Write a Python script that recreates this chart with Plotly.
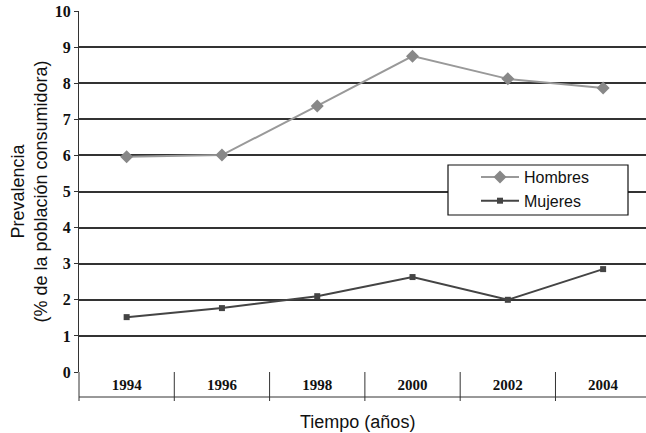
import plotly.graph_objects as go

years = ["1994", "1996", "1998", "2000", "2002", "2004"]
hombres = [5.96, 6.01, 7.37, 8.75, 8.12, 7.87]
mujeres = [1.52, 1.77, 2.10, 2.63, 2.00, 2.85]
y_ticks = list(range(0, 11))

W, H = 646, 433
ML, MR, MT, MB = 79, 0, 11, 61
plot_h = H - MT - MB
plot_w = W - ML - MR

xs = list(range(len(years)))

fig = go.Figure()
fig.add_trace(go.Scatter(
    x=xs, y=hombres, name="Hombres", mode="lines+markers",
    line=dict(color="#999999", width=2),
    marker=dict(symbol="diamond", size=10, color="#888888"),
))
fig.add_trace(go.Scatter(
    x=xs, y=mujeres, name="Mujeres", mode="lines+markers",
    line=dict(color="#444444", width=2),
    marker=dict(symbol="square", size=6, color="#444444"),
))

def py(px):
    # pixel offset below plot bottom -> paper fraction
    return -px / plot_h

def fx(px):
    return (px - ML) / plot_w

def fy(px):
    return (H - MB - px) / plot_h

shapes = []
# vertical separators of category table
for i in range(len(years) - 1):
    shapes.append(dict(type="line", xref="x", yref="paper", x0=i + 0.5, x1=i + 0.5,
                       y0=0, y1=py(29), line=dict(color="#333333", width=1)))
# bottom line of table
shapes.append(dict(type="line", xref="paper", yref="paper", x0=0, x1=1,
                   y0=py(25), y1=py(25), line=dict(color="#333333", width=1)))
# extension of left axis
shapes.append(dict(type="line", xref="paper", yref="paper", x0=0, x1=0,
                   y0=0, y1=py(29), line=dict(color="#333333", width=1)))
# legend box
shapes.append(dict(type="rect", xref="paper", yref="paper", layer="above",
                   x0=fx(448), x1=fx(628), y0=fy(215), y1=fy(165),
                   fillcolor="white", line=dict(color="#111111", width=1.2)))

fig.update_layout(
    width=W, height=H,
    margin=dict(l=ML, r=MR, t=MT, b=MB),
    paper_bgcolor="white", plot_bgcolor="white",
    showlegend=True,
    legend=dict(
        x=fx(476), y=fy(160),
        xanchor="left", yanchor="top",
        bgcolor="rgba(0,0,0,0)", borderwidth=0,
        font=dict(family="Liberation Sans, Arial", size=16, color="#111111"),
        itemwidth=38, tracegroupgap=0,
    ),
    xaxis=dict(
        range=[-0.5, 5.45], tickmode="array", tickvals=xs,
        ticktext=[f"<b>{t}</b>" for t in years],
        showgrid=False, zeroline=False, showline=False, ticks="",
        tickfont=dict(family="Liberation Serif, Times New Roman", size=15, color="#111111"),
        ticklabelstandoff=2,
        fixedrange=True,
    ),
    yaxis=dict(
        range=[0, 10], tickmode="array", tickvals=y_ticks,
        ticktext=[f"<b>{t}</b>" for t in y_ticks],
        showgrid=True, gridcolor="#333333", gridwidth=1.6,
        zeroline=False, showline=True, linecolor="#333333", linewidth=1,
        ticks="outside", ticklen=4, tickcolor="#333333",
        tickfont=dict(family="Liberation Serif, Times New Roman", size=16, color="#111111"),
        title=dict(text="Prevalencia<br>(% de la población consumidora)",
                   font=dict(family="Liberation Sans, Arial", size=18, color="#111111"),
                   standoff=2),
    ),
    shapes=shapes,
    annotations=[dict(
        text="Tiempo (años)", xref="paper", yref="paper",
        x=fx(357), y=py(50), xanchor="center", yanchor="middle",
        showarrow=False, font=dict(family="Liberation Sans, Arial", size=18, color="#111111"),
    )],
)

fig.write_html("out.html")
